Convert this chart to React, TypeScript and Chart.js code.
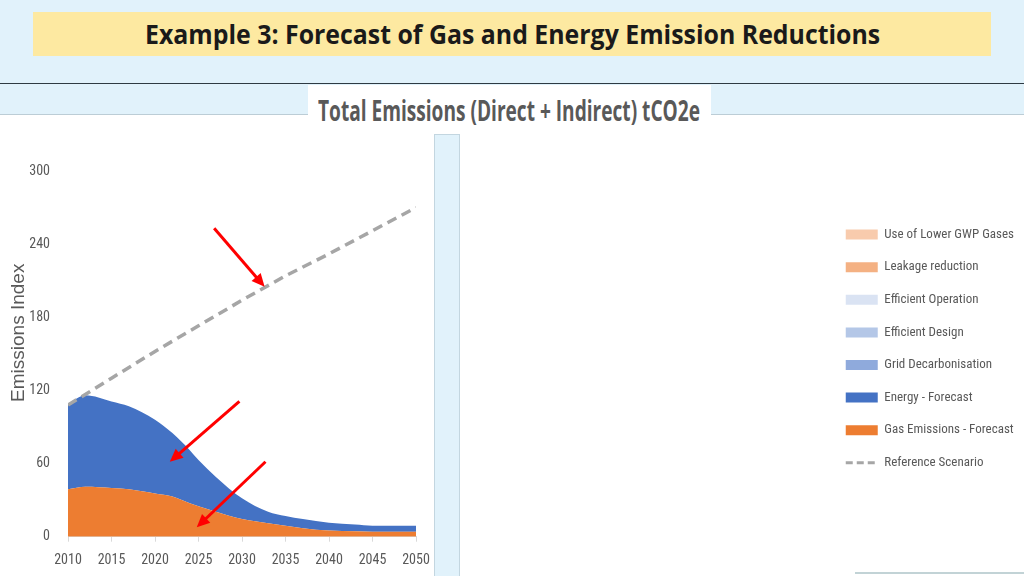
import React, { useEffect, useLayoutEffect, useRef, useState } from 'react';
import { Chart, registerables } from 'chart.js';

Chart.register(...registerables);

// ---------- data ----------
const years = [2010, 2012, 2015, 2017, 2020, 2022, 2024, 2025, 2027, 2030, 2033, 2035, 2037, 2040, 2043, 2045, 2050];
const gasForecast = [39, 41, 40, 39, 35.5, 33, 27.5, 25, 20.5, 14.5, 11, 9, 7, 5, 4.5, 4, 4];
const energyForecast = [70, 75, 71, 68, 60.5, 52, 43.5, 38, 28.5, 17, 9.5, 8, 7.5, 6.5, 5.5, 5, 5];
const gridDecarbonisation: number[] = [];
const efficientDesign: number[] = [];
const efficientOperation: number[] = [];
const leakageReduction: number[] = [];
const lowerGwpGases: number[] = [];
const refYears = [2010, 2015, 2020, 2025, 2030, 2035, 2040, 2045, 2050];
const referenceScenario = [108, 130, 152, 173, 194, 214, 232, 251, 270];

const xTickValues = [2010, 2015, 2020, 2025, 2030, 2035, 2040, 2045, 2050];
const yTickValues = [0, 60, 120, 180, 240, 300];

// annotation arrows (data coordinates)
const arrowStartYear = [2026.8, 2029.7, 2032.7];
const arrowStartValue = [253, 111, 61.5];
const arrowEndYear = [2032.6, 2021.7, 2024.8];
const arrowEndValue = [205, 61.5, 7.7];

const NARROW = '"Roboto Condensed", "DejaVu Sans Condensed", sans-serif';

const toPoints = (xs: number[], ys: number[]) => ys.map((v, i) => ({ x: xs[i], y: v }));

const arrowPlugin = {
  id: 'arrows',
  afterDatasetsDraw(chart: any) {
    const { ctx, scales } = chart;
    const xs = scales.x;
    const ys = scales.y;
    ctx.save();
    ctx.strokeStyle = '#ff0000';
    ctx.fillStyle = '#ff0000';
    ctx.lineWidth = 3;
    for (let i = 0; i < arrowStartYear.length; i++) {
      const x1 = xs.getPixelForValue(arrowStartYear[i]);
      const y1 = ys.getPixelForValue(arrowStartValue[i]);
      const x2 = xs.getPixelForValue(arrowEndYear[i]);
      const y2 = ys.getPixelForValue(arrowEndValue[i]);
      const ang = Math.atan2(y2 - y1, x2 - x1);
      const head = 13;
      const hw = 6;
      const bx = x2 - Math.cos(ang) * head;
      const by = y2 - Math.sin(ang) * head;
      ctx.beginPath();
      ctx.moveTo(x1, y1);
      ctx.lineTo(bx + Math.cos(ang) * 2, by + Math.sin(ang) * 2);
      ctx.stroke();
      ctx.beginPath();
      ctx.moveTo(x2, y2);
      ctx.lineTo(bx + Math.sin(ang) * hw, by - Math.cos(ang) * hw);
      ctx.lineTo(bx - Math.sin(ang) * hw, by + Math.cos(ang) * hw);
      ctx.closePath();
      ctx.fill();
    }
    ctx.restore();
  },
};

function FitText({ text, style, width, left, top }: { text: string; style: React.CSSProperties; width: number; left: number; top: number }) {
  const ref = useRef<HTMLSpanElement>(null);
  const [scale, setScale] = useState(1);
  useLayoutEffect(() => {
    if (ref.current) {
      const w = ref.current.offsetWidth;
      if (w > 0) setScale(width / w);
    }
  }, [text, width]);
  return (
    <span
      ref={ref}
      style={{
        position: 'absolute',
        left,
        top,
        whiteSpace: 'nowrap',
        display: 'inline-block',
        lineHeight: 1,
        transform: `scaleX(${scale})`,
        transformOrigin: 'left top',
        ...style,
      }}
    >
      {text}
    </span>
  );
}

function EmissionsChart() {
  const canvasRef = useRef<HTMLCanvasElement>(null);
  useEffect(() => {
    let chart: any = null;
    let cancelled = false;
    const build = () => {
      if (cancelled || !canvasRef.current) return;
      const areaBase = { borderWidth: 0, pointRadius: 0, stack: 'forecast', cubicInterpolationMode: 'monotone' as const };
      chart = new Chart(canvasRef.current, {
        type: 'line',
        data: {
          datasets: [
            { ...areaBase, label: 'Gas Emissions - Forecast', data: toPoints(years, gasForecast), backgroundColor: '#ed7d31', borderColor: '#ed7d31', fill: 'origin' },
            { ...areaBase, label: 'Energy - Forecast', data: toPoints(years, energyForecast), backgroundColor: '#4472c4', borderColor: '#4472c4', fill: '-1' },
            { ...areaBase, label: 'Grid Decarbonisation', data: toPoints(years, gridDecarbonisation), backgroundColor: '#8faadc', borderColor: '#8faadc', fill: '-1' },
            { ...areaBase, label: 'Efficient Design', data: toPoints(years, efficientDesign), backgroundColor: '#b4c7e7', borderColor: '#b4c7e7', fill: '-1' },
            { ...areaBase, label: 'Efficient Operation', data: toPoints(years, efficientOperation), backgroundColor: '#dae3f3', borderColor: '#dae3f3', fill: '-1' },
            { ...areaBase, label: 'Leakage reduction', data: toPoints(years, leakageReduction), backgroundColor: '#f4b183', borderColor: '#f4b183', fill: '-1' },
            { ...areaBase, label: 'Use of Lower GWP Gases', data: toPoints(years, lowerGwpGases), backgroundColor: '#f8cbad', borderColor: '#f8cbad', fill: '-1' },
            {
              label: 'Reference Scenario',
              data: toPoints(refYears, referenceScenario),
              stack: 'reference',
              borderColor: '#a6a6a6',
              backgroundColor: '#a6a6a6',
              borderWidth: 3.5,
              borderDash: [10, 6],
              pointRadius: 0,
              fill: false,
              tension: 0,
              order: -1,
            },
          ],
        },
        options: {
          animation: false,
          responsive: true,
          maintainAspectRatio: false,
          events: [],
          layout: { padding: { top: 41, left: 0, right: 0, bottom: 0 } },
          scales: {
            x: {
              type: 'linear',
              min: 2010,
              max: 2050,
              afterBuildTicks: (s: any) => { s.ticks = xTickValues.map((v) => ({ value: v })); },
              afterFit: (s: any) => { s.height = 39.3; },
              ticks: {
                autoSkip: false,
                maxRotation: 0,
                padding: 10,
                color: '#595959',
                font: { family: NARROW, size: 14 },
                callback: (v: any) => String(v),
              },
              grid: { display: true, drawOnChartArea: false, drawTicks: true, tickLength: 5, color: '#d9d9d9' },
              border: { display: true, color: '#d9d9d9', width: 1 },
            },
            y: {
              type: 'linear',
              stacked: true,
              min: 0,
              max: 300,
              afterBuildTicks: (s: any) => { s.ticks = yTickValues.map((v) => ({ value: v })); },
              afterFit: (s: any) => { s.width = 68; },
              ticks: { padding: 10, color: '#595959', font: { family: NARROW, size: 14 } },
              grid: { display: false },
              border: { display: false },
              title: {
                display: true,
                text: '\u00a0\u00a0\u00a0\u00a0\u00a0\u00a0\u00a0\u00a0Emissions Index',
                color: '#595959',
                font: { family: '"Liberation Sans", Arial, sans-serif', size: 19 },
                padding: { top: 7, bottom: 0 },
              },
            },
            spacer: {
              type: 'linear',
              position: 'right',
              display: false,
              afterFit: (s: any) => {
                const lg = s.chart.legend;
                s.width = Math.max(0, s.chart.width - (lg ? lg.width : 0) - 416);
              },
            },
          },
          plugins: {
            tooltip: { enabled: false },
            legend: {
              position: 'right',
              align: 'start',
              fullSize: true,
              title: { display: true, text: '', font: { size: 1 }, padding: { top: 36.3, bottom: 0 } },
              labels: {
                usePointStyle: true,
                pointStyleWidth: 32,
                boxHeight: 10,
                padding: 19.6,
                color: '#595959',
                font: { family: NARROW, size: 13 },
                generateLabels: (ch: any) => {
                  const ds = ch.data.datasets;
                  const orderIdx = [6, 5, 4, 3, 2, 1, 0, 7];
                  return orderIdx.map((i) => {
                    const d = ds[i];
                    const isLine = i === 7;
                    return {
                      text: d.label,
                      datasetIndex: i,
                      fillStyle: isLine ? 'rgba(0,0,0,0)' : d.backgroundColor,
                      strokeStyle: d.borderColor,
                      lineWidth: isLine ? 3 : 0,
                      lineDash: isLine ? [7, 4] : [],
                      pointStyle: isLine ? 'line' : 'rect',
                      fontColor: '#595959',
                      hidden: false,
                    };
                  });
                },
              },
            },
          },
        },
        plugins: [arrowPlugin],
      } as any);
    };
    const fonts = (document as any).fonts;
    if (fonts && fonts.load) {
      Promise.all([
        fonts.load('14px "Roboto Condensed"'),
        fonts.load('13px "Roboto Condensed"'),
        fonts.load('19px "Liberation Sans"'),
      ]).then(build, build);
    } else {
      build();
    }
    return () => {
      cancelled = true;
      if (chart) chart.destroy();
    };
  }, []);
  return (
    <div style={{ position: 'absolute', left: 0, top: 130, width: 1024, height: 446 }}>
      <canvas ref={canvasRef} />
    </div>
  );
}

export default function App() {
  return (
    <div style={{ position: 'fixed', left: 0, top: 0, width: 1024, height: 576, overflow: 'hidden', background: '#e1f2fb', fontFamily: '"Open Sans", sans-serif' }}>
      {/* banner */}
      <div style={{ position: 'absolute', left: 33, top: 12, width: 958, height: 44, background: '#fde9a1' }} />
      <FitText
        text="Example 3: Forecast of Gas and Energy Emission Reductions"
        left={145}
        top={20}
        width={735}
        style={{ fontSize: 27, fontWeight: 700, color: '#1a1a1a' }}
      />
      {/* dark rule */}
      <div style={{ position: 'absolute', left: 0, top: 82.5, width: 1024, height: 1.5, background: '#2e3a42' }} />
      {/* white content area */}
      <div style={{ position: 'absolute', left: 0, top: 114, width: 1024, height: 462, background: '#ffffff', borderTop: '1px solid #bccdd6' }} />
      {/* chart title box */}
      <div style={{ position: 'absolute', left: 308, top: 85, width: 403, height: 32, background: '#ffffff' }} />
      <FitText
        text="Total Emissions (Direct + Indirect) tCO2e"
        left={318}
        top={96}
        width={382}
        style={{ fontSize: 28, fontWeight: 700, color: '#595959' }}
      />
      <EmissionsChart />
      {/* light strip overlay */}
      <div style={{ position: 'absolute', left: 434, top: 134, width: 24, height: 442, background: '#e1f2fb', borderLeft: '1px solid #c3d6e0', borderRight: '1px solid #c3d6e0', borderTop: '1px solid #c3d6e0' }} />
      <div style={{ position: 'absolute', left: 855, top: 572, width: 169, height: 1.5, background: '#c2d3d6' }} />
    </div>
  );
}
